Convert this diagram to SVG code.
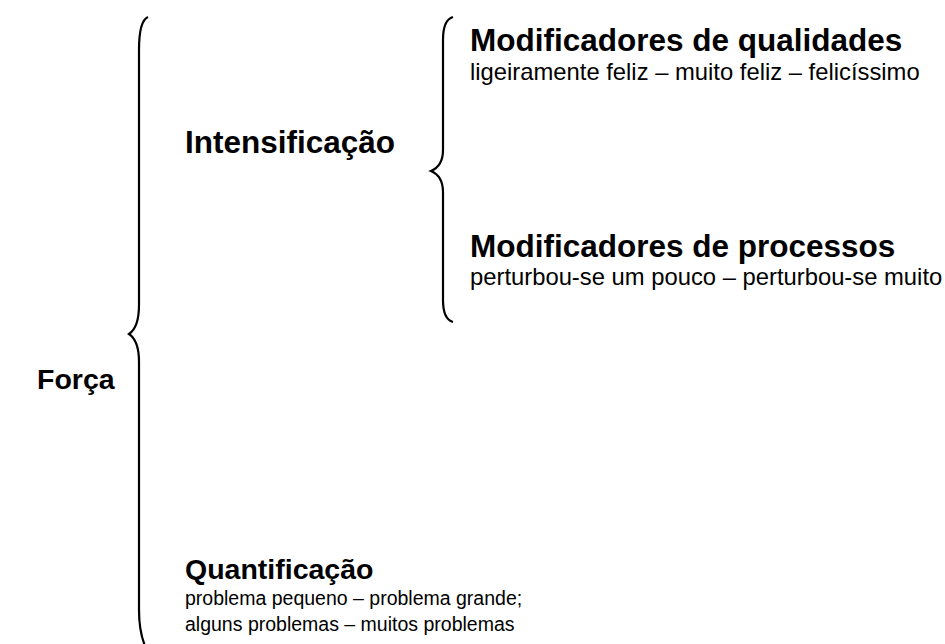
<svg xmlns="http://www.w3.org/2000/svg" width="945" height="644" viewBox="0 0 945 644">
<style>
.b{font-family:"Liberation Sans",Arial,sans-serif;font-weight:bold;font-size:31.5px;fill:#000}
.s{font-family:"Liberation Sans",Arial,sans-serif;font-weight:bold;font-size:28.5px;fill:#000}
.r{font-family:"Liberation Sans",Arial,sans-serif;font-size:23.8px;fill:#000}
.q{font-family:"Liberation Sans",Arial,sans-serif;font-size:19.5px;fill:#000}
.br{fill:none;stroke:#000;stroke-width:2.2}
</style>
<rect width="945" height="644" fill="#fff"/>
<g id="connectors">
<path class="br" d="M148,17 C141,20 139,32 139,50 L139,305 C139,322 135,330 129,334 C135,338 139,346 139,362 L139,610 C139,625 141,636 145,646"/>
<path class="br" d="M453,17 C446,19 443,28 443,40 L443,150 C443,162 438,168 431,171 C438,174 443,180 443,192 L443,300 C443,312 446,320 453,322"/>
</g>
<g id="forca"><text class="s" x="37" y="389">Força</text></g>
<g id="intensificacao"><text class="b" x="185" y="153">Intensificação</text></g>
<g id="mod-qualidades">
<text class="b" x="470" y="51">Modificadores de qualidades</text>
<text class="r" x="470" y="80">ligeiramente feliz – muito feliz – felicíssimo</text>
</g>
<g id="mod-processos">
<text class="b" x="470" y="257">Modificadores de processos</text>
<text class="r" x="470" y="285">perturbou-se um pouco – perturbou-se muito</text>
</g>
<g id="quantificacao">
<text class="s" x="185" y="579">Quantificação</text>
<text class="q" x="185" y="605">problema pequeno – problema grande;</text>
<text class="q" x="185" y="631">alguns problemas – muitos problemas</text>
</g>
</svg>
